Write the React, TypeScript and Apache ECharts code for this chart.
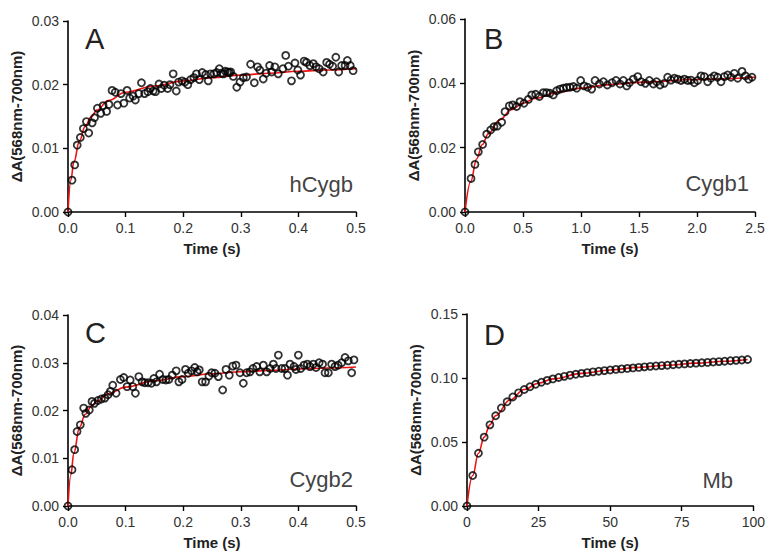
import React, { useEffect, useRef } from "react";
import * as echarts from "echarts";

// ---------- Panel A (hCygb) ----------
const aTime = [0, 0.007, 0.0116, 0.016, 0.0214, 0.0267, 0.032, 0.036, 0.042, 0.046, 0.051, 0.057, 0.061, 0.067, 0.071, 0.0765, 0.082, 0.086, 0.092, 0.097, 0.1026, 0.107, 0.113, 0.117, 0.123, 0.1275, 0.133, 0.1386, 0.143, 0.148, 0.152, 0.158, 0.162, 0.167, 0.173, 0.177, 0.1826, 0.188, 0.192, 0.198, 0.203, 0.208, 0.213, 0.2185, 0.223, 0.228, 0.233, 0.239, 0.2435, 0.2475, 0.2535, 0.258, 0.2627, 0.266, 0.2697, 0.273, 0.277, 0.28, 0.2824, 0.287, 0.293, 0.2986, 0.3044, 0.31, 0.317, 0.3235, 0.329, 0.333, 0.339, 0.344, 0.35, 0.3536, 0.359, 0.365, 0.373, 0.378, 0.3826, 0.388, 0.394, 0.399, 0.4037, 0.41, 0.414, 0.42, 0.4259, 0.4306, 0.436, 0.443, 0.4491, 0.454, 0.4595, 0.465, 0.47, 0.475, 0.481, 0.485, 0.49, 0.495];
const aValue = [0, 0.005, 0.0074, 0.0105, 0.0117, 0.0131, 0.0142, 0.0124, 0.014, 0.0148, 0.0163, 0.0155, 0.0167, 0.0158, 0.0169, 0.0191, 0.0188, 0.0168, 0.0186, 0.0171, 0.0191, 0.0179, 0.0182, 0.0176, 0.0186, 0.0203, 0.0186, 0.0189, 0.0194, 0.019, 0.0189, 0.0201, 0.0194, 0.0199, 0.0194, 0.02, 0.0217, 0.019, 0.0204, 0.0206, 0.0204, 0.02, 0.0208, 0.0211, 0.0217, 0.0208, 0.0219, 0.0216, 0.0206, 0.0217, 0.0217, 0.0219, 0.0225, 0.0218, 0.0217, 0.0221, 0.022, 0.0219, 0.022, 0.0213, 0.0196, 0.0204, 0.0211, 0.0212, 0.0232, 0.0203, 0.0228, 0.0223, 0.0209, 0.0218, 0.023, 0.022, 0.0228, 0.0217, 0.0225, 0.0246, 0.0229, 0.0206, 0.0234, 0.0223, 0.0215, 0.0237, 0.0235, 0.023, 0.0233, 0.0228, 0.0225, 0.022, 0.0235, 0.0232, 0.0229, 0.0243, 0.022, 0.023, 0.023, 0.0238, 0.023, 0.0222];
const aFitTime = [0, 0.005, 0.01, 0.02, 0.03, 0.04, 0.05, 0.07, 0.1, 0.15, 0.2, 0.25, 0.3, 0.35, 0.4, 0.45, 0.5];
const aFitValue = [0, 0.005, 0.0078, 0.0112, 0.0135, 0.0149, 0.016, 0.0175, 0.0188, 0.0198, 0.0206, 0.0211, 0.0215, 0.0218, 0.0221, 0.0223, 0.0225];

// ---------- Panel B (Cygb1) ----------
const bTime = [0, 0.052, 0.086, 0.115, 0.152, 0.187, 0.221, 0.25, 0.279, 0.316, 0.345, 0.382, 0.411, 0.445, 0.474, 0.509, 0.546, 0.575, 0.609, 0.641, 0.675, 0.704, 0.733, 0.761, 0.79, 0.819, 0.848, 0.876, 0.905, 0.934, 0.963, 0.997, 1.026, 1.057, 1.092, 1.121, 1.158, 1.193, 1.227, 1.267, 1.302, 1.336, 1.365, 1.394, 1.417, 1.451, 1.489, 1.518, 1.555, 1.589, 1.624, 1.652, 1.681, 1.718, 1.747, 1.776, 1.805, 1.833, 1.862, 1.891, 1.92, 1.948, 1.977, 2.006, 2.034, 2.063, 2.092, 2.12, 2.149, 2.178, 2.207, 2.236, 2.264, 2.293, 2.322, 2.351, 2.388, 2.417, 2.445, 2.474];
const bValue = [0, 0.0104, 0.0148, 0.0187, 0.021, 0.0242, 0.0255, 0.0265, 0.0267, 0.0279, 0.0312, 0.033, 0.0333, 0.0328, 0.0343, 0.0338, 0.035, 0.0364, 0.0366, 0.0359, 0.0371, 0.0371, 0.0369, 0.0364, 0.0377, 0.0382, 0.0385, 0.0387, 0.0388, 0.039, 0.0385, 0.0409, 0.0392, 0.0388, 0.0382, 0.0409, 0.0398, 0.0405, 0.0395, 0.0402, 0.0409, 0.0398, 0.0409, 0.0392, 0.0402, 0.0413, 0.0421, 0.0405, 0.04, 0.0409, 0.0398, 0.0405, 0.0395, 0.04, 0.0419, 0.041, 0.0416, 0.0413, 0.0409, 0.0413, 0.0409, 0.041, 0.0402, 0.0409, 0.0423, 0.0421, 0.0405, 0.0416, 0.0423, 0.0419, 0.0405, 0.0421, 0.0426, 0.0419, 0.0431, 0.0416, 0.0437, 0.0423, 0.0413, 0.0419];
const bFitTime = [0, 0.05, 0.1, 0.15, 0.2, 0.3, 0.4, 0.5, 0.6, 0.8, 1.0, 1.25, 1.5, 2.0, 2.5];
const bFitValue = [0, 0.0095, 0.0165, 0.021, 0.0243, 0.0287, 0.0318, 0.0338, 0.0353, 0.0372, 0.0385, 0.0396, 0.0403, 0.0412, 0.0419];

// ---------- Panel C (Cygb2) ----------
const cTime = [0, 0.007, 0.0116, 0.0157, 0.0214, 0.0272, 0.031, 0.037, 0.0417, 0.046, 0.052, 0.058, 0.064, 0.0696, 0.0736, 0.0777, 0.0835, 0.091, 0.0968, 0.1026, 0.108, 0.1125, 0.117, 0.123, 0.1287, 0.1333, 0.139, 0.145, 0.149, 0.1536, 0.159, 0.1646, 0.17, 0.175, 0.181, 0.1878, 0.1925, 0.198, 0.204, 0.2087, 0.2145, 0.22, 0.2243, 0.228, 0.233, 0.2388, 0.2446, 0.2494, 0.255, 0.261, 0.2685, 0.2743, 0.28, 0.286, 0.2917, 0.2986, 0.3044, 0.31, 0.316, 0.321, 0.3275, 0.333, 0.3391, 0.345, 0.351, 0.3565, 0.361, 0.3652, 0.371, 0.3767, 0.381, 0.3854, 0.3924, 0.3958, 0.3999, 0.404, 0.4097, 0.4155, 0.4201, 0.426, 0.4306, 0.436, 0.442, 0.4462, 0.452, 0.4577, 0.4635, 0.469, 0.4751, 0.481, 0.4867, 0.4925, 0.4965];
const cValue = [0, 0.0076, 0.0118, 0.0156, 0.017, 0.0205, 0.0194, 0.0201, 0.0219, 0.0215, 0.0221, 0.0224, 0.0226, 0.0233, 0.024, 0.0253, 0.0236, 0.0265, 0.0269, 0.025, 0.0264, 0.025, 0.0236, 0.0271, 0.026, 0.0258, 0.0258, 0.0257, 0.0267, 0.026, 0.0276, 0.0265, 0.0264, 0.0265, 0.0274, 0.0283, 0.026, 0.0265, 0.0286, 0.0278, 0.0283, 0.029, 0.0281, 0.0285, 0.026, 0.026, 0.0272, 0.0279, 0.0278, 0.0271, 0.0243, 0.0286, 0.0274, 0.0293, 0.0295, 0.0279, 0.0257, 0.0279, 0.0281, 0.0288, 0.0292, 0.0281, 0.0295, 0.0281, 0.0288, 0.0297, 0.0288, 0.0316, 0.0288, 0.0288, 0.0274, 0.0297, 0.0292, 0.0286, 0.0316, 0.0288, 0.0295, 0.0297, 0.0292, 0.0297, 0.029, 0.03, 0.0297, 0.0279, 0.0279, 0.0297, 0.0292, 0.0295, 0.03, 0.0311, 0.0304, 0.0279, 0.0306];
const cFitTime = [0, 0.005, 0.01, 0.02, 0.03, 0.04, 0.05, 0.07, 0.1, 0.15, 0.2, 0.25, 0.3, 0.35, 0.4, 0.45, 0.5];
const cFitValue = [0, 0.0065, 0.011, 0.0165, 0.0192, 0.0208, 0.0219, 0.0235, 0.0249, 0.0262, 0.0271, 0.0277, 0.0281, 0.0284, 0.0287, 0.0289, 0.0291];

// ---------- Panel D (Mb) ----------
const dTime = [0, 2, 4, 6, 8, 10, 12, 14, 16, 18, 20, 22, 24, 26, 28, 30, 32, 34, 36, 38, 40, 42, 44, 46, 48, 50, 52, 54, 56, 58, 60, 62, 64, 66, 68, 70, 72, 74, 76, 78, 80, 82, 84, 86, 88, 90, 92, 94, 96, 98];
const dValue = [0, 0.0238, 0.0412, 0.0538, 0.0634, 0.0705, 0.0766, 0.0814, 0.0852, 0.0884, 0.091, 0.0932, 0.0951, 0.0967, 0.0981, 0.0993, 0.1004, 0.1013, 0.1022, 0.1029, 0.1036, 0.1042, 0.1048, 0.1053, 0.1058, 0.1063, 0.1067, 0.1071, 0.1075, 0.1079, 0.1083, 0.1087, 0.1091, 0.1094, 0.1097, 0.11, 0.1104, 0.1107, 0.111, 0.1113, 0.1116, 0.1119, 0.1122, 0.1125, 0.1128, 0.1131, 0.1135, 0.1138, 0.1141, 0.1145];
const dFitTime = [0, 2, 4, 6, 8, 10, 15, 20, 25, 30, 40, 50, 60, 70, 80, 90, 98];
const dFitValue = [0, 0.0238, 0.0412, 0.0538, 0.0634, 0.0705, 0.0828, 0.091, 0.0959, 0.0993, 0.1036, 0.1063, 0.1083, 0.11, 0.1116, 0.1131, 0.1145];

// ---------- Tick labels ----------
const xTicksShort = ["0.0", "0.1", "0.2", "0.3", "0.4", "0.5"];
const xTicksB = ["0.0", "0.5", "1.0", "1.5", "2.0", "2.5"];
const xTicksD = ["0", "25", "50", "75", "100"];
const yTicksA = ["0.00", "0.01", "0.02", "0.03"];
const yTicksB = ["0.00", "0.02", "0.04", "0.06"];
const yTicksC = ["0.00", "0.01", "0.02", "0.03", "0.04"];
const yTicksD = ["0.00", "0.05", "0.10", "0.15"];

const panelLetters = ["A", "B", "C", "D"];
const sampleNames = ["hCygb", "Cygb1", "Cygb2", "Mb"];

const xTitle = "Time (s)";
const yTitle = "ΔA(568nm-700nm)";

const FONT = "'Liberation Sans', Arial, Helvetica, sans-serif";

function zip(xs: number[], ys: number[]) {
  return xs.map((x, i) => [x, ys[i]]);
}

function xAxisCfg(gridIndex: number, max: number, interval: number, labels: string[]) {
  return {
    type: "value",
    gridIndex,
    min: 0,
    max,
    interval,
    name: xTitle,
    nameLocation: "middle",
    nameGap: 29,
    nameTextStyle: { fontFamily: FONT, fontSize: 15, fontWeight: "bold", color: "#222" },
    axisLine: { show: true, onZero: false, lineStyle: { color: "#000", width: 1.6 } },
    axisTick: { show: true, length: 5, lineStyle: { color: "#000", width: 1.4 } },
    splitLine: { show: false },
    axisLabel: {
      fontFamily: FONT,
      fontSize: 14,
      color: "#333",
      margin: 9,
      formatter: (v: number, i: number) => (labels[i] !== undefined ? labels[i] : String(v)),
    },
  };
}

function yAxisCfg(gridIndex: number, max: number, interval: number, labels: string[]) {
  return {
    type: "value",
    gridIndex,
    min: 0,
    max,
    interval,
    name: yTitle,
    nameLocation: "middle",
    nameGap: 44,
    nameTextStyle: { fontFamily: FONT, fontSize: 15, fontWeight: "bold", color: "#222" },
    axisLine: { show: true, onZero: false, lineStyle: { color: "#000", width: 1.6 } },
    axisTick: { show: true, length: 5, lineStyle: { color: "#000", width: 1.4 } },
    splitLine: { show: false },
    axisLabel: {
      fontFamily: FONT,
      fontSize: 14,
      color: "#333",
      margin: 9,
      formatter: (v: number, i: number) => (labels[i] !== undefined ? labels[i] : String(v)),
    },
  };
}

function scatterSeries(idx: number, xs: number[], ys: number[]) {
  return {
    type: "scatter",
    xAxisIndex: idx,
    yAxisIndex: idx,
    data: zip(xs, ys),
    symbol: "circle",
    symbolSize: 7,
    z: 3,
    itemStyle: { color: "rgba(0,0,0,0)", borderColor: "#000", borderWidth: 1.8 },
    emphasis: { disabled: true },
  };
}

function fitSeries(idx: number, xs: number[], ys: number[]) {
  return {
    type: "line",
    xAxisIndex: idx,
    yAxisIndex: idx,
    data: zip(xs, ys),
    showSymbol: false,
    smooth: 0.4,
    smoothMonotone: "x",
    z: 2,
    lineStyle: { color: "#ee1111", width: 1.6 },
    emphasis: { disabled: true },
  };
}

export default function App() {
  const ref = useRef<HTMLDivElement>(null);

  useEffect(() => {
    if (!ref.current) return;
    const chart = echarts.init(ref.current, undefined, { renderer: "svg" });

    const letterPos = [
      { x: 85, y: 39 },
      { x: 484, y: 39 },
      { x: 85, y: 333 },
      { x: 484, y: 335 },
    ];
    const namePos = [
      { x: 353, y: 184 },
      { x: 749, y: 183 },
      { x: 353, y: 479 },
      { x: 733, y: 480 },
    ];

    const graphics: any[] = [];
    panelLetters.forEach((t, i) => {
      graphics.push({
        type: "text",
        x: letterPos[i].x,
        y: letterPos[i].y,
        silent: true,
        style: {
          text: t,
          fontFamily: FONT,
          fontSize: 29,
          fill: "#222",
          textAlign: "left",
          textVerticalAlign: "middle",
        },
      });
    });
    sampleNames.forEach((t, i) => {
      graphics.push({
        type: "text",
        x: namePos[i].x,
        y: namePos[i].y,
        silent: true,
        style: {
          text: t,
          fontFamily: FONT,
          fontSize: 22,
          fill: "#444",
          textAlign: "right",
          textVerticalAlign: "middle",
        },
      });
    });

    chart.setOption({
      animation: false,
      backgroundColor: "#fff",
      grid: [
        { left: 68, top: 21, width: 288, height: 191 },
        { left: 465, top: 19, width: 290, height: 193 },
        { left: 68, top: 315, width: 288, height: 191 },
        { left: 467, top: 314, width: 288, height: 192 },
      ],
      xAxis: [
        xAxisCfg(0, 0.5, 0.1, xTicksShort),
        xAxisCfg(1, 2.5, 0.5, xTicksB),
        xAxisCfg(2, 0.5, 0.1, xTicksShort),
        xAxisCfg(3, 100, 25, xTicksD),
      ],
      yAxis: [
        yAxisCfg(0, 0.03, 0.01, yTicksA),
        yAxisCfg(1, 0.06, 0.02, yTicksB),
        yAxisCfg(2, 0.04, 0.01, yTicksC),
        yAxisCfg(3, 0.15, 0.05, yTicksD),
      ],
      series: [
        fitSeries(0, aFitTime, aFitValue),
        scatterSeries(0, aTime, aValue),
        fitSeries(1, bFitTime, bFitValue),
        scatterSeries(1, bTime, bValue),
        fitSeries(2, cFitTime, cFitValue),
        scatterSeries(2, cTime, cValue),
        fitSeries(3, dFitTime, dFitValue),
        scatterSeries(3, dTime, dValue),
      ],
      graphic: graphics,
    });

    return () => chart.dispose();
  }, []);

  return (
    <div
      ref={ref}
      style={{ position: "absolute", left: 0, top: 0, width: 768, height: 553, background: "#fff" }}
    />
  );
}
